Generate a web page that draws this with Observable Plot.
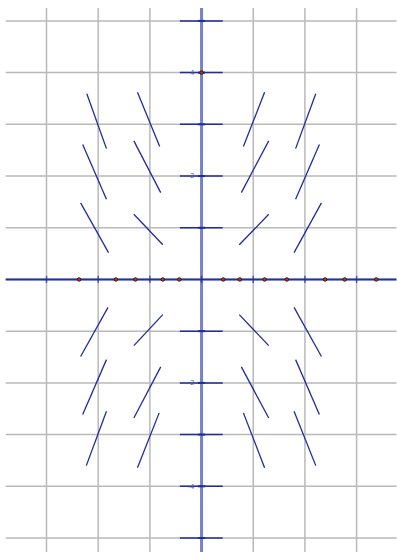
<!DOCTYPE html>
<html>
<head>
<meta charset="utf-8">
<script src="https://cdn.jsdelivr.net/npm/d3@7"></script>
<script src="https://cdn.jsdelivr.net/npm/@observablehq/plot@0.6"></script>
<style>
  html, body { margin: 0; padding: 0; background: #fff; }
  #chart svg { display: block; }
</style>
</head>
<body>
<div id="chart"></div>
<script>
// Grid positions (unit spacing)
const gridX = [-3, -2, -1, 1, 2, 3];
const gridY = [-5, -4, -3, -2, -1, 1, 2, 3, 4, 5];

// Axis tick positions and the labelled y values
const tickXs = [-3, -2, -1, 0, 1, 2, 3];
const tickYs = [-5, -4, -3, -2, -1, 1, 2, 3, 4, 5];
const labelY = [4, 2, -2, -4];

// Slope-field segments: start and end points
const segX1 = [-2.22, -1.24, -2.30, -1.31, -2.34, -1.31,
               0.81, 1.82, 0.77, 1.82, 0.73, 1.79,
               -2.34, -1.31, -2.30, -1.31, -2.23, -1.24,
               0.73, 1.79, 0.77, 1.82, 0.81, 1.79];
const segY1 = [3.59, 3.62, 2.61, 2.68, 1.48, 1.26,
               2.57, 2.53, 1.68, 1.55, 0.67, 0.52,
               -1.49, -1.28, -2.61, -2.68, -3.60, -3.64,
               -0.68, -0.54, -1.69, -1.55, -2.58, -2.55];
const segX2 = [-1.84, -0.81, -1.84, -0.79, -1.80, -0.75,
               1.22, 2.21, 1.30, 2.28, 1.30, 2.32,
               -1.81, -0.75, -1.84, -0.79, -1.84, -0.82,
               1.30, 2.32, 1.30, 2.28, 1.22, 2.21];
const segY2 = [2.53, 2.57, 1.55, 1.68, 0.52, 0.67,
               3.62, 3.59, 2.68, 2.61, 1.26, 1.48,
               -0.54, -0.68, -1.55, -1.69, -2.55, -2.58,
               -1.28, -1.49, -2.68, -2.61, -3.64, -3.60];

// Zero-slope segments along the y axis
const flatY = [5, 4, 3, 2, 1, -1, -2, -3, -4, -5];
const flatX1 = -0.42;
const flatX2 = 0.41;

// Marked points on the x axis, plus one on the y axis
const rootXs = [-2.37, -1.66, -1.28, -0.75, -0.43, 0.42, 0.74, 1.22, 1.65, 2.39, 2.77, 3.38];
const markY = [4];

const segments = segX1.map((x1, i) => ({x1, y1: segY1[i], x2: segX2[i], y2: segY2[i]}));
const flats = flatY.map(y => ({x1: flatX1, x2: flatX2, y}));

const blue = "#1f2d9e";
const tickHalf = 0.07;

const chart = Plot.plot({
  width: 397,
  height: 552,
  marginLeft: 5.7,
  marginRight: 0.6,
  marginTop: 8,
  marginBottom: 0,
  x: {domain: [-3.78, 3.78], axis: null},
  y: {domain: [-5.28, 5.24], axis: null},
  style: {background: "#fff"},
  marks: [
    Plot.ruleX(gridX, {stroke: "#b9b9b9", strokeWidth: 1.5}),
    Plot.ruleY(gridY, {stroke: "#b9b9b9", strokeWidth: 1.5}),
    // axes: broad translucent band with a thin core
    Plot.ruleY([0], {stroke: blue, strokeOpacity: 0.55, strokeWidth: 3}),
    Plot.ruleY([0], {stroke: blue, strokeWidth: 1}),
    Plot.ruleX([0], {stroke: blue, strokeOpacity: 0.6, strokeWidth: 3}),
    // small ticks on both axes
    Plot.link(tickXs, {x1: d => d, x2: d => d, y1: -tickHalf, y2: tickHalf, stroke: blue, strokeOpacity: 0.7, strokeWidth: 1.5}),
    Plot.link(tickYs, {y1: d => d, y2: d => d, x1: -tickHalf, x2: tickHalf, stroke: blue, strokeWidth: 2}),
    // slope field
    Plot.link(flats, {x1: "x1", x2: "x2", y1: "y", y2: "y", stroke: blue, strokeWidth: 1.5}),
    Plot.link(segments, {x1: "x1", y1: "y1", x2: "x2", y2: "y2", stroke: blue, strokeWidth: 1.3}),
    Plot.text(labelY, {x: 0, y: d => d, text: d => String(d), dx: -7, textAnchor: "end",
      fontSize: 7, fill: "#5563b5", fontFamily: "DejaVu Sans"}),
    Plot.dot(rootXs, {x: d => d, y: 0, r: 1.8, fill: "#c0321e", stroke: "#111", strokeWidth: 0.8}),
    Plot.dot(markY, {x: 0, y: d => d, r: 1.8, fill: "#c0321e", stroke: "#111", strokeWidth: 0.8})
  ]
});

document.getElementById("chart").appendChild(chart);
</script>
</body>
</html>
